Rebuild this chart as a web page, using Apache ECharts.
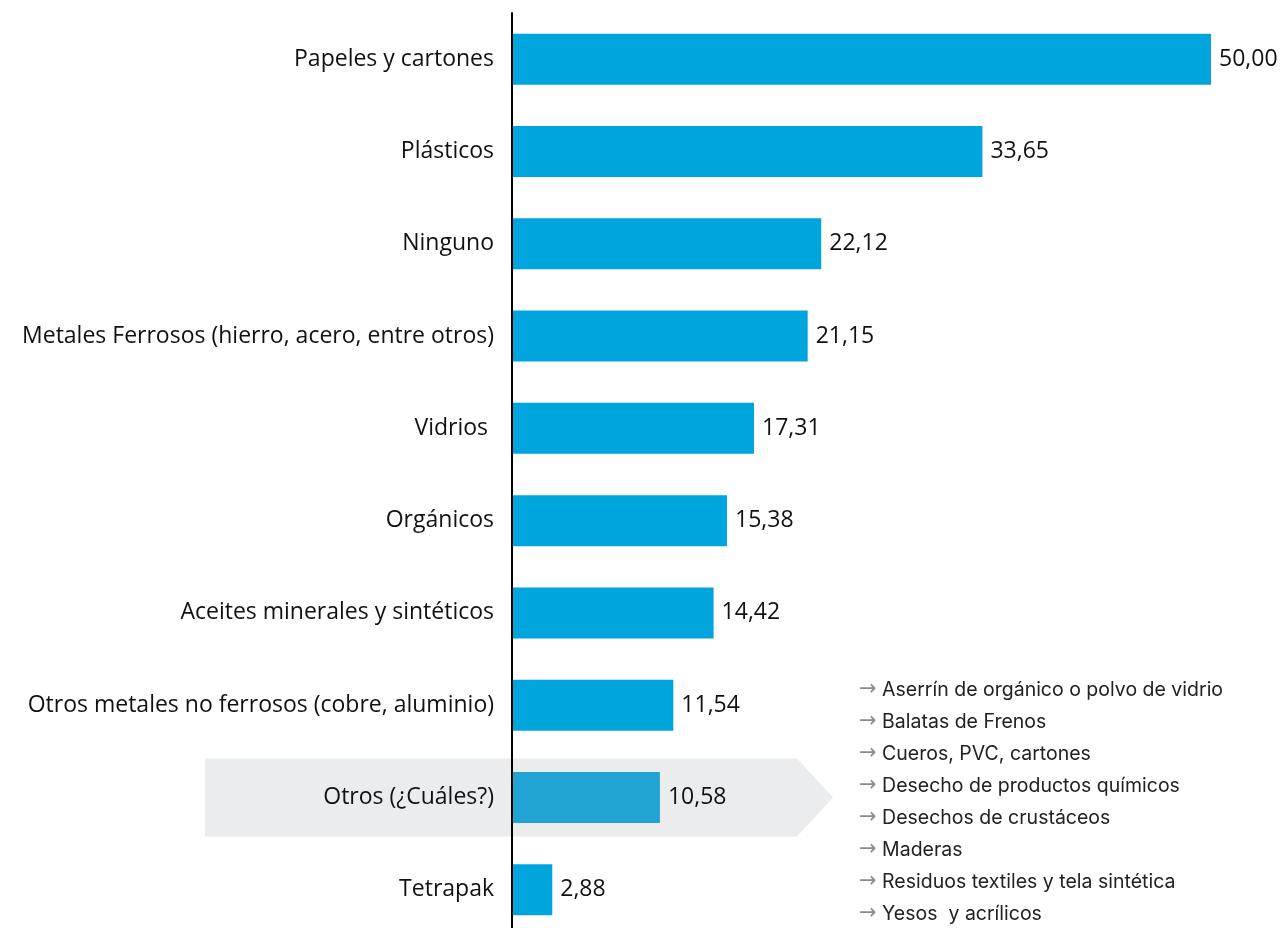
<!DOCTYPE html>
<html>
<head>
<meta charset="utf-8">
<script src="https://cdn.jsdelivr.net/npm/echarts@6/dist/echarts.min.js"></script>
<style>
  html, body { margin: 0; padding: 0; background: #fff; }
  #main { width: 1285px; height: 928px; }
</style>
</head>
<body>
<div id="main"></div>
<script>
var categories = [
    'Papeles y cartones',
    'Plásticos',
    'Ninguno',
    'Metales Ferrosos (hierro, acero, entre otros)',
    'Vidrios ',
    'Orgánicos',
    'Aceites minerales y sintéticos',
    'Otros metales no ferrosos (cobre, aluminio)',
    'Otros (¿Cuáles?)',
    'Tetrapak'
];
var values = [50.00, 33.65, 22.12, 21.15, 17.31, 15.38, 14.42, 11.54, 10.58, 2.88];
var otrosList = [
    'Aserrín de orgánico o polvo de vidrio',
    'Balatas de Frenos',
    'Cueros, PVC, cartones',
    'Desecho de productos químicos',
    'Desechos de crustáceos',
    'Maderas',
    'Residuos textiles y tela sintética',
    'Yesos  y acrílicos'
];
var highlight = 'Otros (¿Cuáles?)';

var mychart = echarts.init(document.getElementById('main'));

var barData = values.map(function (v, i) {
    var item = { value: v };
    if (categories[i] === highlight) {
        item.itemStyle = { color: '#21A3D4' };
    }
    return item;
});

var listText = otrosList.map(function (t) {
    return '{a|→} ' + t;
}).join('\n');

var option = {
    backgroundColor: '#ffffff',
    animation: false,
    grid: {
        left: 512,
        right: 74,
        top: 13,
        height: 923,
        outerBoundsMode: 'none'
    },
    xAxis: {
        type: 'value',
        min: 0,
        max: 50,
        show: false
    },
    yAxis: {
        type: 'category',
        inverse: true,
        data: categories,
        axisLine: { show: true, lineStyle: { color: '#000', width: 2 } },
        axisTick: { show: false },
        axisLabel: {
            color: '#111',
            fontSize: 23,
            fontFamily: 'Open Sans',
            margin: 18
        },
        z: 5
    },
    series: [{
        type: 'bar',
        data: barData,
        barWidth: 51,
        itemStyle: { color: '#00A5DD' },
        label: {
            show: true,
            position: 'right',
            distance: 8,
            color: '#111',
            fontSize: 23,
            fontFamily: 'Open Sans',
            formatter: function (p) {
                return p.value.toFixed(2).replace('.', ',');
            }
        },
        z: 3
    }]
};
mychart.setOption(option);

// grey arrow behind the "Otros" row, placed from the axis scale
var cy = mychart.convertToPixel({ yAxisIndex: 0 }, highlight);
var halfH = 39;
mychart.setOption({
    graphic: [{
        type: 'polygon',
        z: 0,
        zlevel: 0,
        silent: true,
        shape: {
            points: [
                [205, cy - halfH],
                [797, cy - halfH],
                [833, cy],
                [797, cy + halfH],
                [205, cy + halfH]
            ]
        },
        style: { fill: '#EBECEE' }
    }, {
        type: 'text',
        left: 859,
        top: 674,
        silent: true,
        style: {
            text: listText,
            fill: '#222',
            font: '19.5px Inter',
            lineHeight: 32,
            rich: {
                a: { fill: '#8c8c8c', fontSize: 21, fontFamily: 'DejaVu Sans', lineHeight: 32 }
            }
        }
    }]
});
</script>
</body>
</html>
